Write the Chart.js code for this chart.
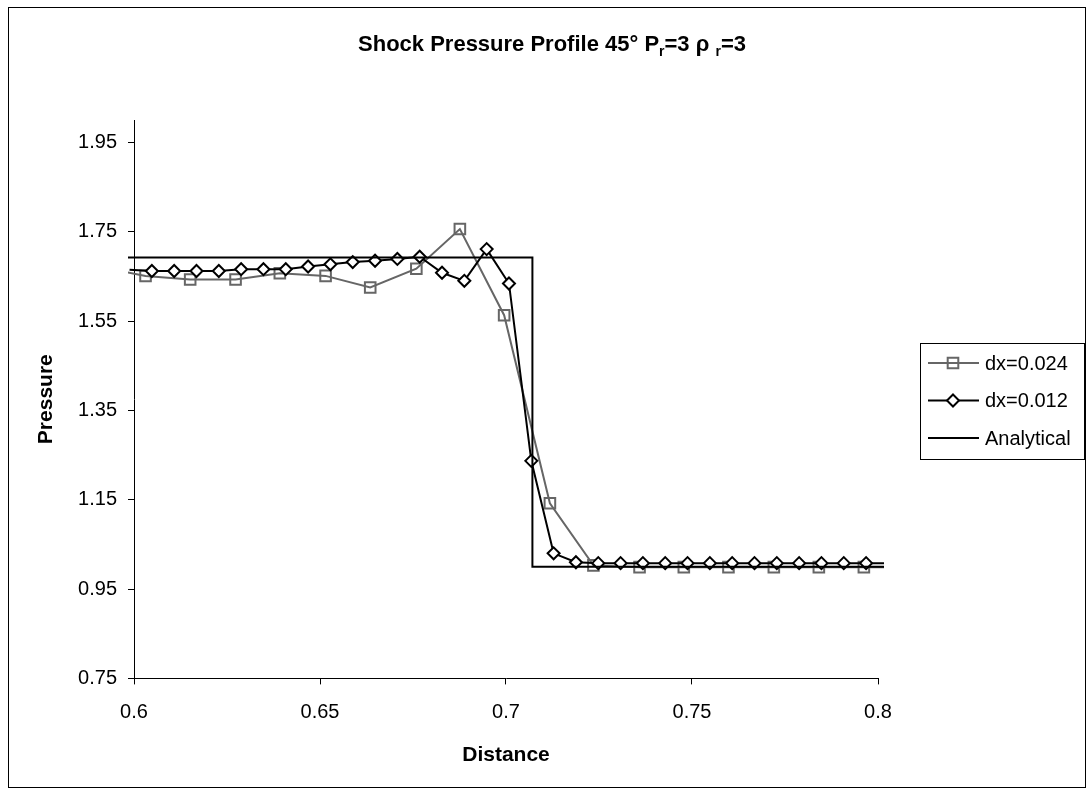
<!DOCTYPE html>
<html>
<head>
<meta charset="utf-8">
<title>Shock Pressure Profile</title>
<script src="https://cdn.jsdelivr.net/npm/chart.js@4.4.1/dist/chart.umd.min.js"></script>
<style>
  body { margin: 0; background: #fff; }
  canvas { display: block; }
</style>
</head>
<body>
<canvas id="shockChart" width="1086" height="794"></canvas>
<script>
const xTicks = [0.6, 0.65, 0.7, 0.75, 0.8]
const yTicks = [0.75, 0.95, 1.15, 1.35, 1.55, 1.75, 1.95]

// dx=0.024 (squares). first / last point lie just outside the axis range
const coarseX = [0.5911, 0.6031, 0.6151, 0.6273, 0.6392, 0.6515, 0.6635, 0.6759, 0.6876, 0.6995,
                 0.7118, 0.7235, 0.7359, 0.7478, 0.7598, 0.7720, 0.7841, 0.7962, 0.8083]
const coarseP = [1.670, 1.651, 1.643, 1.643, 1.657, 1.651, 1.625, 1.667, 1.756, 1.563,
                 1.142, 1.003, 0.999, 0.999, 0.999, 0.999, 0.999, 0.999, 0.999]

// dx=0.012 (diamonds)
const fineX = [0.5988, 0.6048, 0.6108, 0.6168, 0.6228, 0.6288, 0.6348, 0.6408, 0.6468, 0.6528,
               0.6588, 0.6648, 0.6708, 0.6768, 0.6828, 0.6888, 0.6948, 0.7008, 0.7068, 0.7128,
               0.7188, 0.7248, 0.7308, 0.7368, 0.7428, 0.7488, 0.7548, 0.7608, 0.7668, 0.7728,
               0.7788, 0.7848, 0.7908, 0.7968, 0.8028]
const fineP = [1.665, 1.662, 1.662, 1.662, 1.662, 1.666, 1.666, 1.666, 1.672, 1.677,
               1.682, 1.685, 1.689, 1.694, 1.658, 1.640, 1.711, 1.634, 1.237, 1.030,
               1.010, 1.008, 1.008, 1.008, 1.008, 1.008, 1.008, 1.008, 1.008, 1.008,
               1.008, 1.008, 1.008, 1.008, 1.008]

// analytical step
const exactX = [0.59, 0.7071, 0.7071, 0.81]
const exactP = [1.692, 1.692, 1.0, 1.0]

const titleParts = [
  { text: 'Shock Pressure Profile 45° P', sub: false },
  { text: 'r', sub: true },
  { text: '=3 ρ ', sub: false },
  { text: 'r', sub: true },
  { text: '=3', sub: false }
]

const FONT = "'Liberation Sans', Arial, sans-serif"

function toPoints(xs, ys) {
    return xs.map((x, i) => ({ x: x, y: ys[i] }))
}

function markerRadius(r) {
    return ctx => (ctx.raw && (ctx.raw.x < 0.6 || ctx.raw.x > 0.8)) ? 0 : r
}

function drawMarker(ctx, style, x, y, r, fill) {
    ctx.beginPath()
    if (style === 'rect') {
        const s = r * Math.SQRT1_2
        ctx.rect(x - s, y - s, 2 * s, 2 * s)
    } else {
        ctx.moveTo(x, y - r)
        ctx.lineTo(x + r, y)
        ctx.lineTo(x, y + r)
        ctx.lineTo(x - r, y)
        ctx.closePath()
    }
    if (fill && fill !== 'transparent') {
        ctx.fillStyle = fill
        ctx.fill()
    }
    ctx.stroke()
}

const frame = {
    id: 'frame',
    beforeDraw(chart) {
        const ctx = chart.ctx
        ctx.save()
        ctx.fillStyle = '#fff'
        ctx.fillRect(0, 0, chart.width, chart.height)
        ctx.strokeStyle = '#000'
        ctx.lineWidth = 1
        ctx.strokeRect(8.5, 7.5, 1077, 780)
        ctx.restore()
    }
}

const richTitle = {
    id: 'richTitle',
    afterDraw(chart) {
        const ctx = chart.ctx
        const mainFont = 'bold 22px ' + FONT
        const subFont = 'bold 14px ' + FONT
        ctx.save()
        let total = 0
        titleParts.forEach(p => {
            ctx.font = p.sub ? subFont : mainFont
            total += ctx.measureText(p.text).width
        })
        let x = 552 - total / 2
        const base = 51
        ctx.fillStyle = '#000'
        ctx.textBaseline = 'alphabetic'
        ctx.textAlign = 'left'
        titleParts.forEach(p => {
            ctx.font = p.sub ? subFont : mainFont
            ctx.fillText(p.text, x, p.sub ? base + 5 : base)
            x += ctx.measureText(p.text).width
        })
        ctx.restore()
    }
}

const legendBox = {
    id: 'legendBox',
    afterDraw(chart) {
        const ctx = chart.ctx
        ctx.save()
        ctx.strokeStyle = '#000'
        ctx.lineWidth = 1
        ctx.strokeRect(920.5, 343.5, 164, 116)
        chart.data.datasets.forEach((ds, i) => {
            const y = 363 + i * 37.5
            ctx.strokeStyle = ds.borderColor
            ctx.lineWidth = ds.borderWidth
            ctx.beginPath()
            ctx.moveTo(928, y)
            ctx.lineTo(979, y)
            ctx.stroke()
            if (ds.pointStyle) {
                ctx.lineWidth = ds.pointBorderWidth
                ctx.strokeStyle = ds.pointBorderColor
                drawMarker(ctx, ds.pointStyle, 953, y, ds.legendRadius, ds.pointBackgroundColor)
            }
            ctx.fillStyle = '#000'
            ctx.font = '20px ' + FONT
            ctx.textBaseline = 'middle'
            ctx.textAlign = 'left'
            ctx.fillText(ds.label, 985, y + 1)
        })
        ctx.restore()
    }
}

const data = {
    datasets: [
        {
            label: 'dx=0.024',
            data: toPoints(coarseX, coarseP),
            borderColor: '#666666',
            borderWidth: 2,
            pointStyle: 'rect',
            pointRadius: markerRadius(7.5),
            legendRadius: 7.5,
            pointBorderColor: '#666666',
            pointBackgroundColor: 'transparent',
            pointBorderWidth: 2,
            tension: 0,
            order: 3,
            clip: { left: 6, top: 0, right: 6, bottom: 0 }
        },
        {
            label: 'dx=0.012',
            data: toPoints(fineX, fineP),
            borderColor: '#000000',
            borderWidth: 2,
            pointStyle: 'rectRot',
            pointRadius: markerRadius(6),
            legendRadius: 6,
            pointBorderColor: '#000000',
            pointBackgroundColor: '#ffffff',
            pointBorderWidth: 2,
            tension: 0,
            order: 2,
            clip: { left: 6, top: 0, right: 6, bottom: 0 }
        },
        {
            label: 'Analytical',
            data: toPoints(exactX, exactP),
            borderColor: '#000000',
            borderWidth: 2,
            pointRadius: 0,
            tension: 0,
            order: 1,
            clip: { left: 6, top: 0, right: 6, bottom: 0 }
        }
    ]
}

const config = {
    type: 'line',
    data: data,
    plugins: [frame, richTitle, legendBox],
    options: {
        responsive: false,
        animation: false,
        devicePixelRatio: 1,
        layout: { padding: { top: 120, left: 0, right: 208, bottom: 20 } },
        plugins: {
            legend: { display: false },
            title: { display: false },
            tooltip: { enabled: false }
        },
        scales: {
            x: {
                type: 'linear',
                min: 0.6,
                max: 0.8,
                afterBuildTicks: scale => { scale.ticks = xTicks.map(v => ({ value: v })) },
                afterFit: scale => { scale.height = 95.6 },
                ticks: {
                    color: '#000',
                    padding: 16,
                    font: { family: FONT, size: 20 },
                    callback: v => String(+v.toFixed(2))
                },
                grid: { display: true, drawOnChartArea: false, drawTicks: true, tickLength: 6, color: '#000' },
                border: { display: true, color: '#000', width: 1 },
                title: {
                    display: true,
                    text: 'Distance',
                    color: '#000',
                    font: { family: FONT, size: 21, weight: 'bold' },
                    padding: { top: 0, bottom: 6 }
                }
            },
            y: {
                type: 'linear',
                min: 0.75,
                max: 2.0,
                afterBuildTicks: scale => { scale.ticks = yTicks.map(v => ({ value: v })) },
                afterFit: scale => { scale.width = 134 },
                ticks: {
                    color: '#000',
                    padding: 11,
                    font: { family: FONT, size: 20 },
                    callback: v => v.toFixed(2)
                },
                grid: { display: true, drawOnChartArea: false, drawTicks: true, tickLength: 6, color: '#000' },
                border: { display: true, color: '#000', width: 1 },
                title: {
                    display: true,
                    text: 'Pressure',
                    color: '#000',
                    font: { family: FONT, size: 21, weight: 'bold' },
                    padding: { top: 34, bottom: 0 }
                }
            }
        }
    }
}

const shockChart = new Chart(document.getElementById('shockChart'), config)
</script>
</body>
</html>
